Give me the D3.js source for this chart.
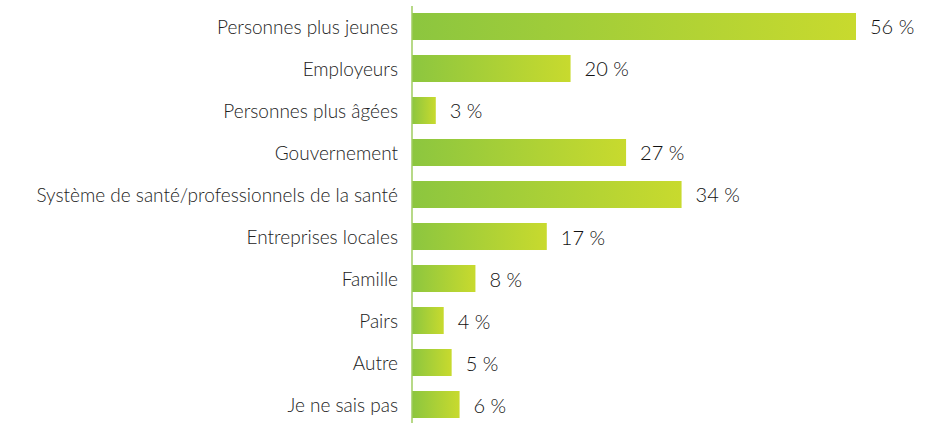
<!DOCTYPE html>
<html><head><meta charset="utf-8">
<script src="https://cdn.jsdelivr.net/npm/d3@7"></script>
<style>body{margin:0;background:#fff}svg{display:block}</style>
</head><body>
<svg id="c" width="938" height="423"></svg>
<script>
const categories = ["Personnes plus jeunes","Employeurs","Personnes plus âgées","Gouvernement","Système de santé/professionnels de la santé","Entreprises locales","Famille","Pairs","Autre","Je ne sais pas"];
const values = [56,20,3,27,34,17,8,4,5,6];
const valueLabels = ["56 %","20 %","3 %","27 %","34 %","17 %","8 %","4 %","5 %","6 %"];

const svg = d3.select("#c");
const x0 = 412;
const x = d3.scaleLinear().domain([0,56]).range([x0,856]);
const y = d3.scaleBand().domain(categories).range([-2,433]).paddingInner(0.357).paddingOuter(0.357);

const defs = svg.append("defs");
const g = defs.append("linearGradient").attr("id","gr").attr("x1","0").attr("x2","1").attr("y1","0").attr("y2","0");
g.append("stop").attr("offset","0").attr("stop-color","#8cc63f");
g.append("stop").attr("offset","1").attr("stop-color","#c8da2e");

svg.selectAll("rect.bar").data(categories).enter().append("rect")
  .attr("class","bar")
  .attr("x",x0)
  .attr("y",d=>y(d))
  .attr("width",(d,i)=>x(values[i])-x0)
  .attr("height",y.bandwidth())
  .attr("fill","url(#gr)");

svg.append("line").attr("x1",x0).attr("x2",x0).attr("y1",6).attr("y2",423)
  .attr("stroke","#9fcd5f").attr("stroke-width",1.5);

const font = "Lato, 'Open Sans', sans-serif";
svg.selectAll("text.cat").data(categories).enter().append("text")
  .attr("class","cat")
  .attr("x",398)
  .attr("y",d=>y(d)+y.bandwidth()/2+1)
  .attr("dy","0.35em")
  .attr("text-anchor","end")
  .attr("font-family",font).attr("font-size",19).attr("font-weight",300).attr("fill","#222")
  .text(d=>d);

svg.selectAll("text.val").data(categories).enter().append("text")
  .attr("class","val")
  .attr("x",(d,i)=>x(values[i])+14)
  .attr("y",d=>y(d)+y.bandwidth()/2+1)
  .attr("dy","0.35em")
  .attr("font-family",font).attr("font-size",20).attr("font-weight",300).attr("fill","#111")
  .text((d,i)=>valueLabels[i]);
</script>
</body></html>
